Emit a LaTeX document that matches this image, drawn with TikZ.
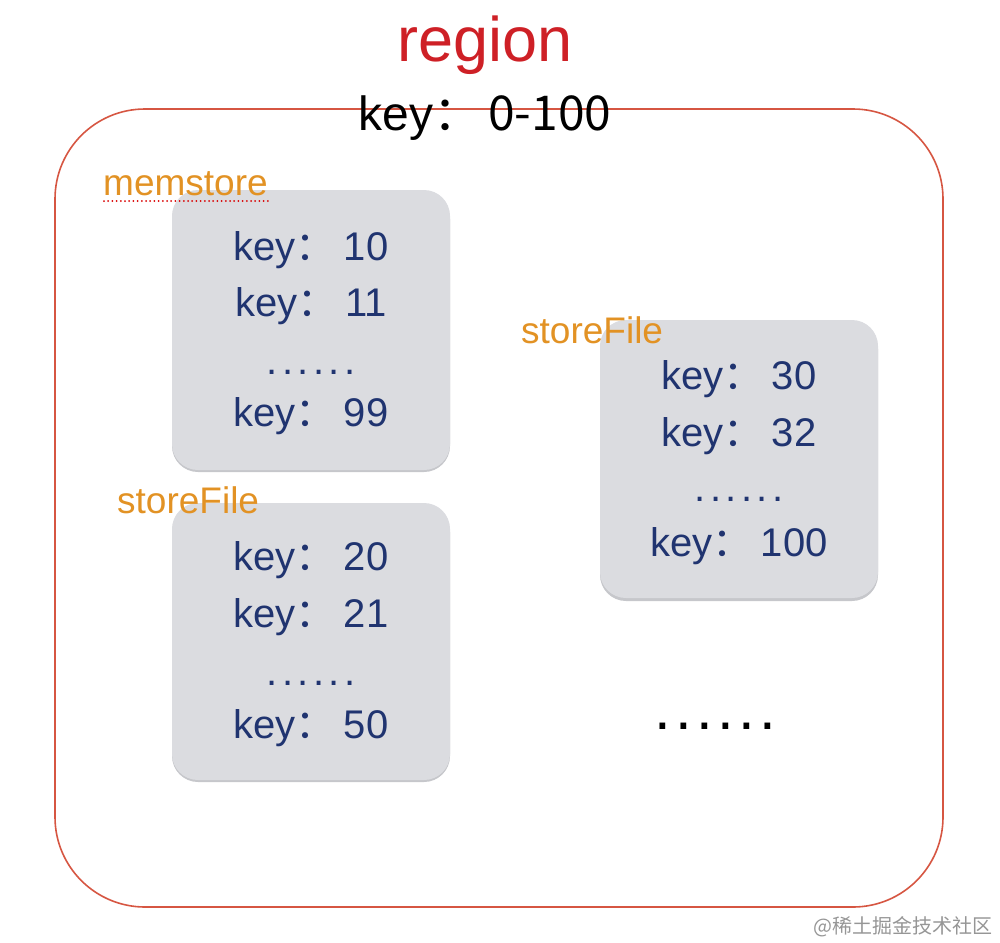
\documentclass[tikz,border=0pt]{standalone}
\usepackage{fontspec}
\setmainfont{Liberation Sans}
\newfontfamily\cjk{Noto Sans CJK SC}
\definecolor{regionred}{RGB}{206,32,38}
\definecolor{borderred}{RGB}{214,86,66}
\definecolor{boxgray}{RGB}{219,220,224}
\definecolor{shadowgray}{RGB}{198,199,203}
\definecolor{keyblue}{RGB}{32,52,112}
\definecolor{labelorange}{RGB}{226,146,36}
\definecolor{markgray}{RGB}{150,150,150}
\newcommand{\keycolon}{{\cjk ：}\hspace{8pt}}
\newcommand{\sixdots}[1]{.\hspace{#1}.\hspace{#1}.\hspace{#1}.\hspace{#1}.\hspace{#1}.}
\tikzset{
  keybox/.style={fill=boxgray, rounded corners=26pt},
  keyshadow/.style={fill=shadowgray, rounded corners=26pt},
  keytext/.style={anchor=base, inner sep=0pt, text=keyblue, font=\fontsize{40pt}{48pt}\selectfont},
  keydots/.style={anchor=base, inner sep=0pt, text=keyblue, font=\fontsize{40pt}{48pt}\selectfont},
  partlabel/.style={anchor=base west, inner sep=0pt, text=labelorange, font=\fontsize{37pt}{44pt}\selectfont},
}
\begin{document}
\begin{tikzpicture}[x=1pt,y=-1pt]
\useasboundingbox (0,0) rectangle (1000,942);

%Shape: Region frame
\draw [borderred, line width=1.6pt, rounded corners=90pt] (55,109) rectangle (943,907);

% Text Node
\node (title) [anchor=base, inner sep=0pt, text=regionred, font=\fontsize{63pt}{70pt}\selectfont] at (485,62) {region};
% Text Node
\node (range) [anchor=base, inner sep=0pt, font=\fontsize{48pt}{56pt}\selectfont] at (485,130) {key\cjk{：}\hspace{7pt}0-100};

%Shape: memstore box
\path [keyshadow] (172,193) rectangle (450,472);
\path [keybox] (172,190) rectangle (450,470);
%Shape: lower storeFile box
\path [keyshadow] (172,506) rectangle (450,782);
\path [keybox] (172,503) rectangle (450,780);
%Shape: right storeFile box
\path [keyshadow] (600,323) rectangle (878,601);
\path [keybox] (600,320) rectangle (878,598);

% Text Node
\node (memlabel) [partlabel] at (103,195) {memstore};
\draw [red!85!black, line width=2pt, line cap=round, dash pattern=on 0pt off 4.2pt] (104,201) -- (269,201);
\node (m1) [keytext] at (311,260) {key\keycolon 10};
\node (m2) [keytext] at (311,316) {key\keycolon 11};
\node (m3) [keydots] at (311,374) {\sixdots{4.5pt}};
\node (m4) [keytext] at (311,426) {key\keycolon 99};

% Text Node
\node (filelabela) [partlabel] at (117,513) {storeFile};
\node (a1) [keytext] at (311,570) {key\keycolon 20};
\node (a2) [keytext] at (311,627) {key\keycolon 21};
\node (a3) [keydots] at (311,685) {\sixdots{4.5pt}};
\node (a4) [keytext] at (311,738) {key\keycolon 50};

% Text Node
\node (filelabelb) [partlabel] at (521,343) {storeFile};
\node (b1) [keytext] at (739,389) {key\keycolon 30};
\node (b2) [keytext] at (739,446) {key\keycolon 32};
\node (b3) [keydots] at (739,501) {\sixdots{4.5pt}};
\node (b4) [keytext] at (739,556) {key\keycolon 100};

% Text Node
\node (more) [anchor=base, inner sep=0pt, font=\fontsize{60pt}{70pt}\selectfont] at (715,729) {\sixdots{4.3pt}};

% Text Node
\node (mark) [anchor=base east, inner sep=0pt, text=markgray, font=\cjk\fontsize{20pt}{24pt}\selectfont] at (993,933) {@稀土掘金技术社区};

\end{tikzpicture}
\end{document}
